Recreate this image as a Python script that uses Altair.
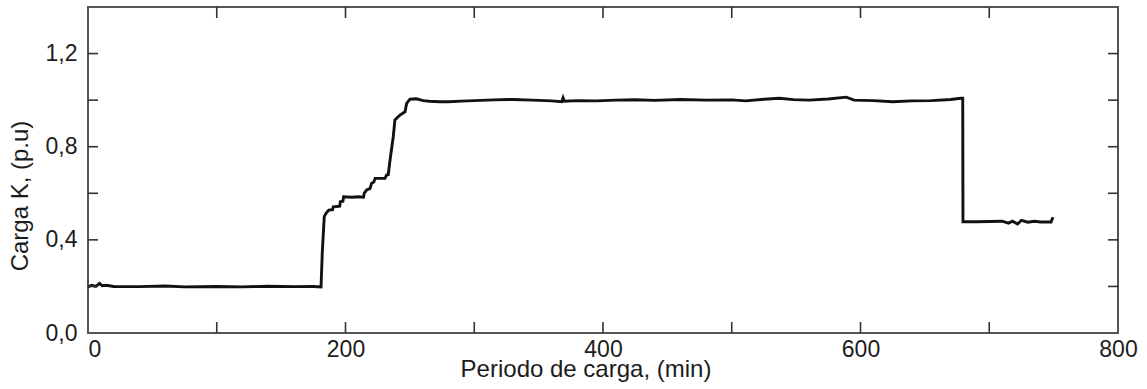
import altair as alt
import pandas as pd

# Data
t_min = [0, 3, 6, 9, 11, 14, 20, 40, 60, 75, 100, 120, 140, 160, 175, 181,
         182, 183.5, 185, 187, 190, 190.5, 195.5, 196, 198, 198.5, 205, 210, 214,
         214.5, 216.4, 219, 220.3, 222, 223, 230.7, 232, 233.2, 234.6, 237.1,
         238.4, 242.3, 246.2, 247.5, 250.1, 255, 260.4, 265, 273.4, 280, 290,
         300, 315, 330, 345, 360, 368, 369, 370, 380, 395, 410, 425, 440, 460,
         480, 500, 511, 525, 537, 548, 560, 575, 589, 595, 610, 625, 640, 655,
         670, 678, 679.4, 679.6, 690, 700, 710, 715, 718, 722, 725, 730, 735,
         740, 748, 749.5]
carga = [0.198, 0.205, 0.200, 0.213, 0.203, 0.205, 0.200, 0.199, 0.202, 0.198,
         0.200, 0.198, 0.201, 0.199, 0.200, 0.198,
         0.350, 0.500, 0.515, 0.528, 0.530, 0.542, 0.545, 0.564, 0.566, 0.585,
         0.583, 0.585, 0.583,
         0.600, 0.614, 0.620, 0.643, 0.648, 0.664, 0.664, 0.679, 0.680, 0.743,
         0.843, 0.915, 0.936, 0.950, 0.986, 1.004, 1.006, 0.998, 0.995, 0.993,
         0.993, 0.996, 0.998, 1.001, 1.003, 1.000, 0.997, 0.993, 1.010, 0.995,
         0.998, 0.997, 1.000, 1.002, 0.999, 1.003, 1.000, 1.001, 0.997, 1.004,
         1.008, 1.002, 1.000, 1.005, 1.013, 1.000, 0.998, 0.993, 0.997, 0.998,
         1.003, 1.008, 1.008, 0.478, 0.478, 0.479, 0.480, 0.472, 0.480, 0.468,
         0.484, 0.476, 0.480, 0.477, 0.477, 0.497]

x_label_values = [0, 200, 400, 600, 800]
y_label_values = [0.0, 0.4, 0.8, 1.2]
x_tick_values = [100, 200, 300, 400, 500, 600, 700]
y_tick_values = [0.2, 0.4, 0.6, 0.8, 1.0, 1.2]

X_TITLE = "Periodo de carga, (min)"
Y_TITLE = "Carga K, (p.u)"

W, H = 1030, 326
TICK = 11
TXT = "#1c1c1c"

df = pd.DataFrame({"t": t_min, "k": carga})
xt = pd.DataFrame({"t": x_tick_values})
yt = pd.DataFrame({"k": y_tick_values})

xs = alt.Scale(domain=[0, 800], nice=False, zero=False)
ys = alt.Scale(domain=[0, 1.4], nice=False, zero=False)

x_axis = alt.Axis(
    values=x_label_values, ticks=False,
    tickSize=0, domain=False, grid=False, labelPadding=5,
    labelFlush=False,
    labelAlign={"condition": {"test": "datum.value == 0", "value": "left"},
                "value": "center"},
    labelFontSize=23, labelColor=TXT, labelFont="Liberation Sans",
    titleFontSize=24, titleFont="Liberation Sans", titleColor=TXT,
    titleFontWeight="normal", titleX=497.5, titleY=43,
    titleBaseline="alphabetic", titleAlign="center")
y_axis = alt.Axis(
    values=y_label_values, ticks=False,
    tickSize=0, domain=False, grid=False, labelPadding=11,
    labelExpr="replace(format(datum.value, '.1f'), '.', ',')",
    labelFontSize=23, labelColor=TXT, labelFont="Liberation Sans",
    titleFontSize=24, titleFont="Liberation Sans", titleColor=TXT,
    titleFontWeight="normal", titleAngle=270, titleX=-60.5, titleY=188.5,
    titleBaseline="alphabetic", titleAlign="center")

line = alt.Chart(df).mark_line(color="#111111", strokeWidth=2.9).encode(
    x=alt.X("t:Q", scale=xs, axis=x_axis, title=X_TITLE),
    y=alt.Y("k:Q", scale=ys, axis=y_axis, title=Y_TITLE),
)

tick_style = dict(color="#333333", strokeWidth=1.6)

top_ticks = alt.Chart(xt).mark_rule(**tick_style).encode(
    x=alt.X("t:Q", scale=xs, title=X_TITLE), y=alt.value(0), y2=alt.value(TICK))
bottom_ticks = alt.Chart(xt).mark_rule(**tick_style).encode(
    x=alt.X("t:Q", scale=xs, title=X_TITLE), y=alt.value(H - TICK), y2=alt.value(H))
left_ticks = alt.Chart(yt).mark_rule(**tick_style).encode(
    y=alt.Y("k:Q", scale=ys, title=Y_TITLE), x=alt.value(0), x2=alt.value(TICK - 1))
right_ticks = alt.Chart(yt).mark_rule(**tick_style).encode(
    y=alt.Y("k:Q", scale=ys, title=Y_TITLE), x=alt.value(W - TICK + 1), x2=alt.value(W))

chart = alt.layer(line, top_ticks, bottom_ticks, left_ticks, right_ticks).properties(
    width=W, height=H,
    autosize=alt.AutoSizeParams(type="none"),
    padding={"left": 88, "top": 7, "right": 29, "bottom": 56},
    background="white",
).configure_view(
    stroke="#555555", strokeWidth=2
)

chart.save("out.html", embed_options={"renderer": "svg", "actions": False})
